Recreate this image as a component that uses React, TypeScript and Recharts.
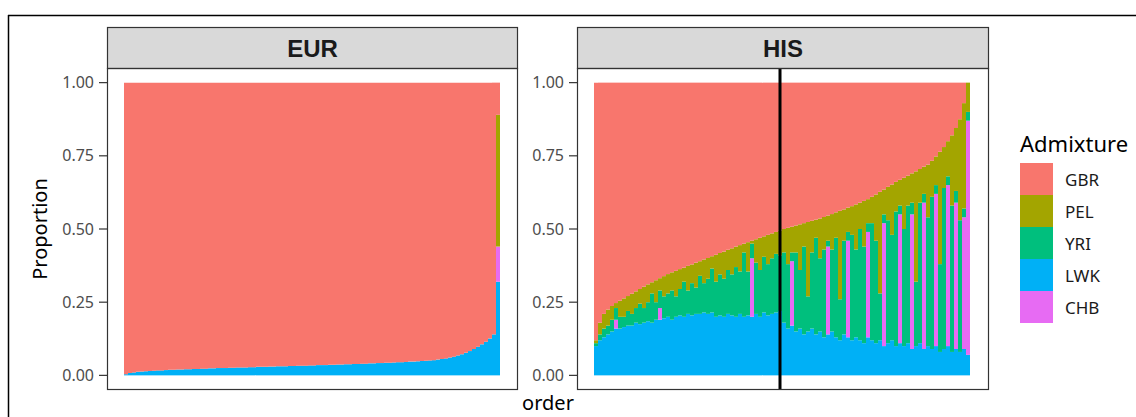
import React from "react";
import { BarChart, Bar, XAxis, YAxis, ReferenceLine, Legend } from "recharts";

const COLORS: Record<string, string> = {
  GBR: "#F8766D",
  PEL: "#A3A500",
  YRI: "#00BF7D",
  LWK: "#00B0F6",
  CHB: "#E76BF3",
};
const legendOrder = ["GBR", "PEL", "YRI", "LWK", "CHB"];
const yTicks = [0, 0.25, 0.5, 0.75, 1];

// EUR individuals, ordered
const eurLWK = [
  0.004, 0.008, 0.010, 0.012, 0.013, 0.014, 0.015, 0.016, 0.017, 0.017,
  0.018, 0.019, 0.019, 0.020, 0.020, 0.021, 0.021, 0.022, 0.022, 0.023,
  0.023, 0.024, 0.024, 0.025, 0.025, 0.025, 0.026, 0.026, 0.027, 0.027,
  0.027, 0.028, 0.028, 0.029, 0.029, 0.029, 0.030, 0.030, 0.031, 0.031,
  0.031, 0.032, 0.032, 0.033, 0.033, 0.033, 0.034, 0.034, 0.035, 0.035,
  0.035, 0.036, 0.036, 0.037, 0.037, 0.038, 0.038, 0.039, 0.039, 0.040,
  0.040, 0.041, 0.041, 0.042, 0.042, 0.043, 0.043, 0.044, 0.045, 0.045,
  0.046, 0.047, 0.047, 0.048, 0.049, 0.050, 0.051, 0.052, 0.054, 0.056,
  0.058, 0.061, 0.064, 0.068, 0.072, 0.077, 0.083, 0.090, 0.098, 0.106,
  0.115, 0.126, 0.140, 0.320,
];
const eurCHB = [
  0, 0, 0, 0, 0, 0, 0, 0, 0, 0, 0, 0, 0, 0, 0, 0, 0, 0, 0, 0,
  0, 0, 0, 0, 0, 0, 0, 0, 0, 0, 0, 0, 0, 0, 0, 0, 0, 0, 0, 0,
  0, 0, 0, 0, 0, 0, 0, 0, 0, 0, 0, 0, 0, 0, 0, 0, 0, 0, 0, 0,
  0, 0, 0, 0, 0, 0, 0, 0, 0, 0, 0, 0, 0, 0, 0, 0, 0, 0, 0, 0,
  0, 0, 0, 0, 0, 0, 0, 0, 0, 0, 0, 0, 0, 0.12,
];
const eurYRI = [
  0, 0, 0, 0, 0, 0, 0, 0, 0, 0, 0, 0, 0, 0, 0, 0, 0, 0, 0, 0,
  0, 0, 0, 0, 0, 0, 0, 0, 0, 0, 0, 0, 0, 0, 0, 0, 0, 0, 0, 0,
  0, 0, 0, 0, 0, 0, 0, 0, 0, 0, 0, 0, 0, 0, 0, 0, 0, 0, 0, 0,
  0, 0, 0, 0, 0, 0, 0, 0, 0, 0, 0, 0, 0, 0, 0, 0, 0, 0, 0, 0,
  0, 0, 0, 0, 0, 0, 0, 0, 0, 0, 0, 0, 0, 0,
];
const eurPEL = [
  0, 0, 0, 0, 0, 0, 0, 0, 0, 0, 0, 0, 0, 0, 0, 0, 0, 0, 0, 0,
  0, 0, 0, 0, 0, 0, 0, 0, 0, 0, 0, 0, 0, 0, 0, 0, 0, 0, 0, 0,
  0, 0, 0, 0, 0, 0, 0, 0, 0, 0, 0, 0, 0, 0, 0, 0, 0, 0, 0, 0,
  0, 0, 0, 0, 0, 0, 0, 0, 0, 0, 0, 0, 0, 0, 0, 0, 0, 0, 0, 0,
  0, 0, 0, 0, 0, 0, 0, 0, 0, 0, 0, 0, 0, 0.45,
];
const eurGBR = [
  0.996, 0.992, 0.990, 0.988, 0.987, 0.986, 0.985, 0.984, 0.983, 0.983,
  0.982, 0.981, 0.981, 0.980, 0.980, 0.979, 0.979, 0.978, 0.978, 0.977,
  0.977, 0.976, 0.976, 0.975, 0.975, 0.975, 0.974, 0.974, 0.973, 0.973,
  0.973, 0.972, 0.972, 0.971, 0.971, 0.971, 0.970, 0.970, 0.969, 0.969,
  0.969, 0.968, 0.968, 0.967, 0.967, 0.967, 0.966, 0.966, 0.965, 0.965,
  0.965, 0.964, 0.964, 0.963, 0.963, 0.962, 0.962, 0.961, 0.961, 0.960,
  0.960, 0.959, 0.959, 0.958, 0.958, 0.957, 0.957, 0.956, 0.955, 0.955,
  0.954, 0.953, 0.953, 0.952, 0.951, 0.950, 0.949, 0.948, 0.946, 0.944,
  0.942, 0.939, 0.936, 0.932, 0.928, 0.923, 0.917, 0.910, 0.902, 0.894,
  0.885, 0.874, 0.860, 0.110,
];

// HIS individuals, ordered
const hisLWK = [
  0.10, 0.12, 0.13, 0.14, 0.15, 0.16, 0.16, 0.165, 0.17, 0.17,
  0.18, 0.175, 0.18, 0.185, 0.18, 0.19, 0.19, 0.195, 0.20, 0.19,
  0.20, 0.205, 0.20, 0.21, 0.205, 0.21, 0.21, 0.215, 0.21, 0.215,
  0.20, 0.205, 0.20, 0.21, 0.205, 0.20, 0.21, 0.20, 0.205, 0.20,
  0.21, 0.20, 0.215, 0.205, 0.21, 0.215, 0.22,
  0.18, 0.16, 0.17, 0.15, 0.16, 0.14, 0.15, 0.16, 0.14, 0.15,
  0.13, 0.14, 0.15, 0.13, 0.12, 0.14, 0.13, 0.12, 0.13, 0.12,
  0.11, 0.13, 0.12, 0.11, 0.12, 0.10, 0.11, 0.12, 0.10, 0.11,
  0.10, 0.11, 0.09, 0.10, 0.11, 0.09, 0.10, 0.09, 0.10, 0.08,
  0.09, 0.10, 0.08, 0.09, 0.08, 0.09, 0.07,
];
const hisCHB = [
  0, 0, 0, 0, 0, 0.03, 0, 0, 0, 0,
  0, 0, 0, 0, 0, 0, 0.04, 0, 0, 0,
  0, 0, 0, 0, 0, 0, 0, 0, 0, 0,
  0, 0, 0, 0, 0, 0, 0, 0, 0, 0.20,
  0, 0, 0, 0, 0, 0, 0,
  0, 0, 0.22, 0, 0, 0, 0, 0, 0, 0,
  0, 0.30, 0, 0, 0, 0, 0.33, 0, 0, 0,
  0, 0.36, 0, 0, 0, 0.42, 0, 0, 0, 0.44,
  0, 0, 0.46, 0, 0, 0.50, 0, 0, 0.52, 0,
  0, 0.55, 0, 0.50, 0, 0.45, 0.80,
];
const hisYRI = [
  0.01, 0.02, 0.03, 0.03, 0.04, 0.04, 0.04, 0.035, 0.05, 0.04,
  0.05, 0.07, 0.05, 0.065, 0.10, 0.06, 0.06, 0.075, 0.08, 0.10,
  0.07, 0.09, 0.12, 0.08, 0.11, 0.09, 0.13, 0.10, 0.12, 0.15,
  0.12, 0.14, 0.13, 0.15, 0.14, 0.17, 0.145, 0.22, 0.15, 0.05,
  0.175, 0.16, 0.19, 0.175, 0.19, 0.20, 0.19,
  0.24, 0.22, 0.03, 0.27, 0.20, 0.30, 0.12, 0.26, 0.33, 0.25,
  0.30, 0.02, 0.28, 0.34, 0.14, 0.32, 0.03, 0.36, 0.30, 0.38,
  0.33, 0.03, 0.40, 0.35, 0.16, 0.03, 0.42, 0.36, 0.46, 0.03,
  0.40, 0.47, 0.04, 0.22, 0.48, 0.03, 0.44, 0.52, 0.03, 0.30,
  0.55, 0.03, 0.50, 0.04, 0.45, 0.03, 0.03,
];
const hisPEL = [
  0.01, 0.04, 0.05, 0.055, 0.047, 0.017, 0.055, 0.063, 0.051, 0.069,
  0.057, 0.05, 0.073, 0.061, 0.038, 0.075, 0.042, 0.069, 0.066, 0.062,
  0.087, 0.068, 0.048, 0.084, 0.064, 0.085, 0.05, 0.081, 0.071, 0.042,
  0.092, 0.073, 0.093, 0.069, 0.089, 0.07, 0.09, 0.03, 0.10, 0.01,
  0.08, 0.11, 0.07, 0.10, 0.085, 0.075, 0.085,
  0.08, 0.124, 0.088, 0.092, 0.156, 0.08, 0.254, 0.108, 0.062, 0.136,
  0.111, 0.086, 0.121, 0.087, 0.302, 0.107, 0.083, 0.098, 0.154, 0.09,
  0.156, 0.082, 0.09, 0.158, 0.347, 0.085, 0.114, 0.172, 0.101, 0.088,
  0.175, 0.102, 0.10, 0.377, 0.115, 0.093, 0.18, 0.123, 0.098, 0.384,
  0.14, 0.12, 0.24, 0.215, 0.345, 0.36, 0.10,
];
const hisGBR = [
  0.88, 0.82, 0.79, 0.775, 0.763, 0.753, 0.745, 0.737, 0.729, 0.721,
  0.713, 0.705, 0.697, 0.689, 0.682, 0.675, 0.668, 0.661, 0.654, 0.648,
  0.643, 0.637, 0.632, 0.626, 0.621, 0.615, 0.61, 0.604, 0.599, 0.593,
  0.588, 0.582, 0.577, 0.571, 0.566, 0.56, 0.555, 0.55, 0.545, 0.54,
  0.535, 0.53, 0.525, 0.52, 0.515, 0.51, 0.505,
  0.50, 0.496, 0.492, 0.488, 0.484, 0.48, 0.476, 0.472, 0.468, 0.464,
  0.459, 0.454, 0.449, 0.443, 0.438, 0.433, 0.427, 0.422, 0.416, 0.41,
  0.404, 0.398, 0.39, 0.382, 0.373, 0.365, 0.356, 0.348, 0.339, 0.332,
  0.325, 0.318, 0.31, 0.303, 0.295, 0.287, 0.28, 0.267, 0.252, 0.236,
  0.22, 0.20, 0.18, 0.155, 0.125, 0.07, 0,
];
const hisCutoff = 47; // order of the individual marked by the black line

const eurData = eurLWK.map((v, i) => ({
  order: i + 1, LWK: v, CHB: eurCHB[i], YRI: eurYRI[i], PEL: eurPEL[i], GBR: eurGBR[i],
}));
const hisData = hisLWK.map((v, i) => ({
  order: i + 1, LWK: v, CHB: hisCHB[i], YRI: hisYRI[i], PEL: hisPEL[i], GBR: hisGBR[i],
}));

const stackKeys = ["LWK", "CHB", "YRI", "PEL", "GBR"];
const FONT = '"Noto Sans", sans-serif';

const renderLegend = () => (
  <div style={{ fontFamily: FONT }}>
    <div style={{ fontSize: 22, lineHeight: "30px", height: 35, color: "#000" }}>Admixture</div>
    {legendOrder.map((k) => (
      <div key={k} style={{ display: "flex", alignItems: "center", height: 32 }}>
        <div style={{ width: 33, height: 32, background: COLORS[k] }} />
        <span style={{ marginLeft: 12, fontSize: 17, color: "#1a1a1a" }}>{k}</span>
      </div>
    ))}
  </div>
);

type PanelProps = {
  data: any[];
  width: number;
  left: number;
  right: number;
  padL: number;
  padR: number;
  cutoff?: number;
  legend?: boolean;
};

const Panel: React.FC<PanelProps> = (props) => (
  <BarChart
    width={props.width}
    height={417}
    data={props.data}
    barCategoryGap={0}
    barGap={0}
    margin={{ top: 68, bottom: 27, left: props.left, right: props.right }}
  >
    <XAxis dataKey="order" hide padding={{ left: props.padL, right: props.padR }} />
    <YAxis
      width={60}
      domain={[-0.05, 1.05]}
      ticks={yTicks}
      tickFormatter={(v: number) => v.toFixed(2)}
      axisLine={false}
      tickSize={8}
      tickMargin={5}
      tickLine={{ stroke: "#333", strokeWidth: 1.2 }}
      tick={{ fill: "#4D4D4D", fontSize: 16, fontFamily: FONT }}
    />
    {stackKeys.map((k) => (
      <Bar key={k} dataKey={k} stackId="a" fill={COLORS[k]} isAnimationActive={false} />
    ))}
    {props.cutoff ? (
      <ReferenceLine x={props.cutoff} stroke="#000" strokeWidth={3} />
    ) : null}
    {props.legend ? (
      <Legend
        content={renderLegend}
        layout="vertical"
        align="center"
        verticalAlign="middle"
        wrapperStyle={{ left: 540, top: 128, width: 120 }}
      />
    ) : null}
  </BarChart>
);

export default function App() {
  return (
    <div style={{ position: "absolute", left: 0, top: 0, width: 1136, height: 417, overflow: "hidden", background: "#fff" }}>
      <div style={{ position: "absolute", left: 0, top: 0 }}>
        <Panel data={eurData} width={530} left={47} right={13} padL={17} padR={17} />
      </div>
      <div style={{ position: "absolute", left: 480, top: 0 }}>
        <Panel data={hisData} width={656} left={37} right={148} padL={17} padR={18} cutoff={hisCutoff} legend />
      </div>
      <svg width={1136} height={417} style={{ position: "absolute", left: 0, top: 0, pointerEvents: "none" }}>
        <line x1={8} y1={15.5} x2={1136} y2={15.5} stroke="#000" strokeWidth={1.5} />
        <line x1={8.5} y1={15} x2={8.5} y2={417} stroke="#000" strokeWidth={1.5} />
        <rect x={107.5} y={27.5} width={410} height={41} fill="#D9D9D9" stroke="#333" strokeWidth={1.2} />
        <rect x={577.5} y={27.5} width={411} height={41} fill="#D9D9D9" stroke="#333" strokeWidth={1.2} />
        <text x={312.5} y={57} textAnchor="middle" fontFamily='"Liberation Sans", Arial, sans-serif' fontWeight="bold" fontSize={24} fill="#1a1a1a">EUR</text>
        <text x={783} y={57} textAnchor="middle" fontFamily='"Liberation Sans", Arial, sans-serif' fontWeight="bold" fontSize={24} fill="#1a1a1a">HIS</text>
        <rect x={107.5} y={68.5} width={410} height={321} fill="none" stroke="#333" strokeWidth={1.2} />
        <rect x={577.5} y={68.5} width={411} height={321} fill="none" stroke="#333" strokeWidth={1.2} />
        <text x={47} y={229} transform="rotate(-90 47 229)" textAnchor="middle" fontFamily={FONT} fontSize={20} fill="#000">Proportion</text>
        <text x={548} y={410} textAnchor="middle" fontFamily={FONT} fontSize={20} fill="#000">order</text>
      </svg>
    </div>
  );
}
